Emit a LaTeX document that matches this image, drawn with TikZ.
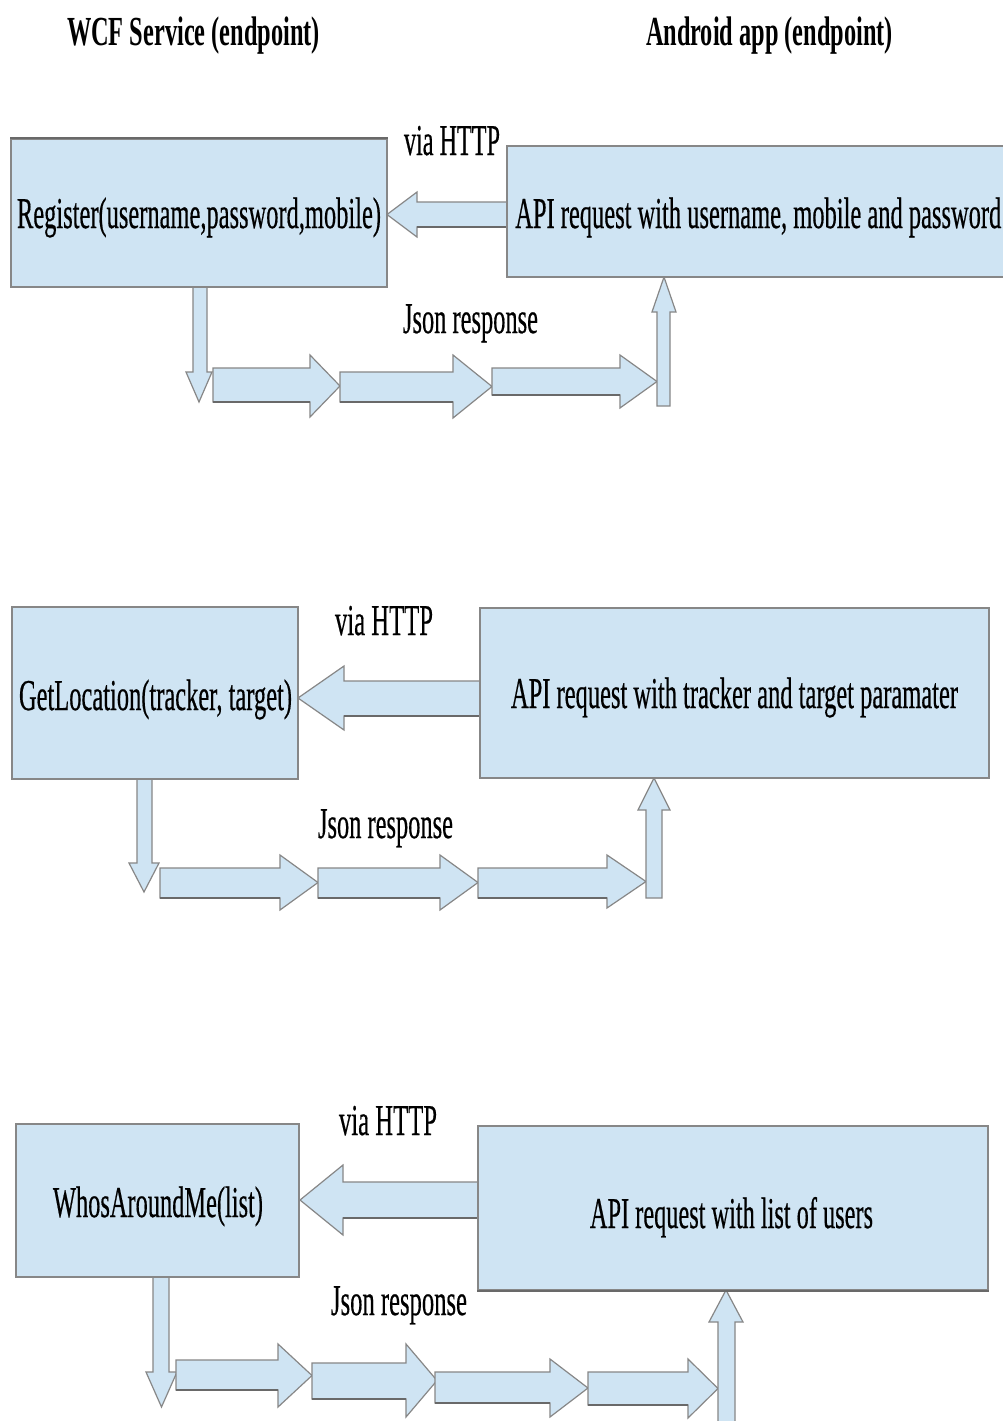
\documentclass[tikz,border=0pt]{standalone}
\usepackage{fontspec}
\setmainfont{Liberation Serif}
\usepackage{graphicx}
\usetikzlibrary{fit}
\definecolor{boxblue}{RGB}{207,228,243}
\definecolor{edgegray}{RGB}{135,135,135}
\definecolor{darkedge}{RGB}{105,105,105}
\newcommand\wtext[2]{\resizebox{\dimexpr #1pt*3/4\relax}{\height}{#2}}
% horizontal block arrow: x-start, x-headbase, x-tip, shaft top, shaft bottom, head top, head bottom
\newcommand\harrow[7]{%
  \filldraw[arr] (#1,#4) -- (#2,#4) -- (#2,#6) -- (#3,{(#6+#7)/2}) -- (#2,#7) -- (#2,#5) -- (#1,#5) -- cycle;
  \draw[shadowline] (#1,#5) -- (#2,#5);}
% vertical block arrow: y-start, y-headbase, y-tip, shaft left, shaft right, head left, head right
\newcommand\varrow[7]{%
  \filldraw[arr] (#4,#1) -- (#4,#2) -- (#6,#2) -- ({(#6+#7)/2},#3) -- (#7,#2) -- (#5,#2) -- (#5,#1) -- cycle;}
\tikzset{
  box/.style={draw=edgegray, fill=boxblue, line width=1.1pt, inner sep=0pt},
  arr/.style={fill=boxblue, draw=edgegray, line width=0.9pt, line join=miter},
  shadowline/.style={draw=darkedge, line width=1.4pt},
  txt/.style={inner sep=0pt, font=\fontsize{33}{36}\selectfont\addfontfeature{FakeBold=0.6}},
  head/.style={inner sep=0pt, font=\fontsize{31}{34}\selectfont\bfseries},
}
\begin{document}
\begin{tikzpicture}[x=0.75pt, y=-0.75pt]
\useasboundingbox (0,0) rectangle (1003,1421);
\fill[white] (0,0) rectangle (1003,1421);

% headers
\node[head, anchor=base] (h1) at (193.5,45) {\wtext{253}{WCF Service (endpoint)}};
\node[head, anchor=base] (h2) at (769.5,45) {\wtext{247}{Android app (endpoint)}};

% ---------------- panel 1 ----------------
\harrow{507}{417}{387}{202}{227}{192}{237}
\varrow{287}{372}{402}{193}{207}{186}{212}
\harrow{213}{310}{340}{368}{402}{355}{417}
\harrow{340}{453}{492}{372}{402}{355}{418}
\harrow{492}{620}{657}{368}{395}{355}{408}
\varrow{406}{312}{277}{657}{670}{652}{676}
\node[box, fit={(11,139) (387,287)}] (A1) {};
\draw[darkedge, line width=1.8pt] (A1.north west) -- (A1.north east);
\node[box, fit={(507,146) (1020,277)}] (B1) {};
\node[txt, anchor=base] (tA1) at (199,228) {\wtext{364}{Register(username,password,mobile)}};
\node[txt, anchor=base west] (tB1) at (515,228) {\wtext{486}{API request with username, mobile and password}};
\node[txt, anchor=base] (v1) at (452,155) {\wtext{96}{via HTTP}};
\node[txt, anchor=base] (j1) at (470.5,333) {\wtext{135}{Json response}};

% ---------------- panel 2 ----------------
\harrow{480}{344}{298}{681}{716}{666}{730}
\varrow{779}{863}{892}{137}{152}{129}{159}
\harrow{160}{280}{318}{868}{898}{855}{910}
\harrow{318}{440}{478}{868}{898}{855}{910}
\harrow{478}{607}{646}{868}{898}{855}{908}
\varrow{898}{810}{778}{646}{662}{638}{670}
\node[box, fit={(12,607) (298,779)}] (A2) {};
\node[box, fit={(480,608) (989,778)}] (B2) {};
\node[txt, anchor=base] (tA2) at (155.5,710) {\wtext{273}{GetLocation(tracker, target)}};
\node[txt, anchor=base] (tB2) at (734.5,708) {\wtext{447}{API request with tracker and target paramater}};
\node[txt, anchor=base] (v2) at (384,635) {\wtext{98}{via HTTP}};
\node[txt, anchor=base] (j2) at (385.5,838) {\wtext{135}{Json response}};

% ---------------- panel 3 ----------------
\harrow{479}{343}{300}{1182}{1218}{1165}{1235}
\varrow{1277}{1372}{1407}{153}{169}{146}{177}
\harrow{176}{278}{312}{1360}{1390}{1344}{1407}
\harrow{312}{406}{437}{1363}{1399}{1344}{1417}
\harrow{435}{550}{588}{1372}{1403}{1359}{1417}
\harrow{588}{688}{718}{1372}{1405}{1359}{1418}
\varrow{1440}{1322}{1290}{718}{735}{709}{743}
\node[box, fit={(16,1124) (299,1277)}] (A3) {};
\node[box, fit={(478,1126) (988,1290)}] (B3) {};
\draw[darkedge, line width=1.8pt] (B3.south west) -- (B3.south east);
\node[txt, anchor=base] (tA3) at (158,1217) {\wtext{210}{WhosAroundMe(list)}};
\node[txt, anchor=base] (tB3) at (731.5,1228) {\wtext{283}{API request with list of users}};
\node[txt, anchor=base] (v3) at (388,1135) {\wtext{98}{via HTTP}};
\node[txt, anchor=base] (j3) at (399,1315) {\wtext{136}{Json response}};
\end{tikzpicture}
\end{document}
